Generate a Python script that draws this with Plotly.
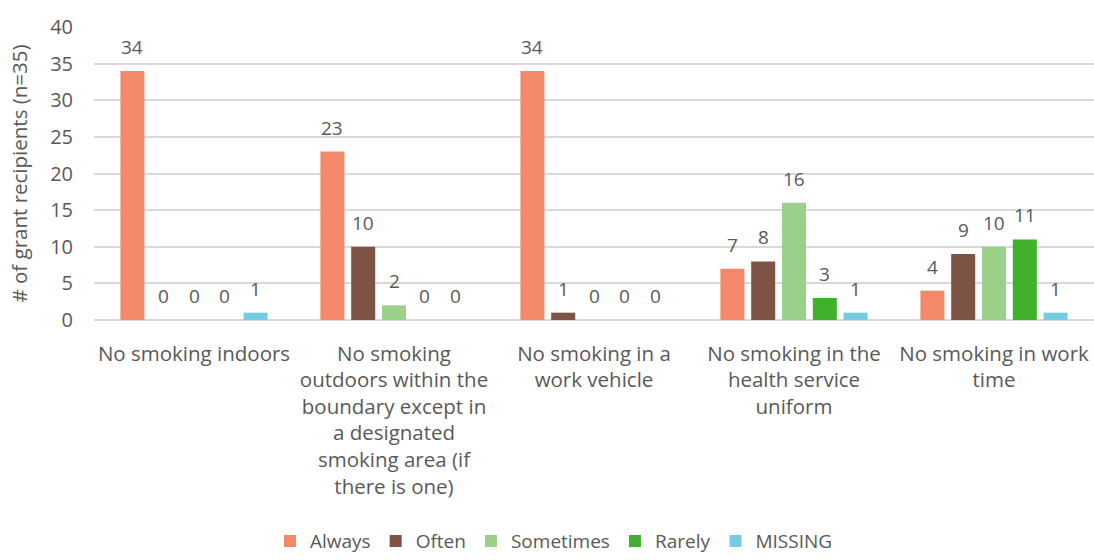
import plotly.graph_objects as go

categories = [
    "No smoking indoors",
    "No smoking<br>outdoors within the<br>boundary except in<br>a designated<br>smoking area (if<br>there is one)",
    "No smoking in a<br>work vehicle",
    "No smoking in the<br>health service<br>uniform",
    "No smoking in work<br>time",
]
series_names = ["Always", "Often", "Sometimes", "Rarely", "MISSING"]
always = [34, 23, 34, 7, 4]
often = [0, 10, 1, 8, 9]
sometimes = [0, 2, 0, 16, 10]
rarely = [0, 0, 0, 3, 11]
missing = [1, 0, 0, 1, 1]
colors = ["#F4896A", "#7E5446", "#9BD08B", "#41B02C", "#74CCE2"]

values = [always, often, sometimes, rarely, missing]
text_color = "#595959"
font_family = "'Open Sans', 'Noto Sans', sans-serif"

W, H = 1094, 560
ML, MR, MT, MB = 94, 0, 27, 240
BARGAP, BARGROUPGAP = 0.23, 0.22

fig = go.Figure()
for name, vals, col in zip(series_names, values, colors):
    fig.add_trace(go.Bar(
        x=categories, y=vals, name=name,
        marker=dict(color=col, line=dict(width=0)),
    ))

# value labels above each bar, shifted sideways to the bar's slot in its group
group_px = (W - ML - MR) / len(categories)
slot_px = group_px * (1 - BARGAP) / len(series_names)
annotations = []
for i, vals in enumerate(values):
    dx = (i - (len(series_names) - 1) / 2) * slot_px
    for cat, v in zip(categories, vals):
        annotations.append(dict(
            x=cat, y=v, xref="x", yref="y", text=str(v), showarrow=False,
            xanchor="center", yanchor="bottom", xshift=dx, yshift=9,
            font=dict(size=19, color=text_color, family=font_family),
        ))

fig.update_layout(
    width=W, height=H,
    margin=dict(l=ML, r=MR, t=MT, b=MB, autoexpand=False),
    barmode="group", bargap=BARGAP, bargroupgap=BARGROUPGAP,
    plot_bgcolor="white", paper_bgcolor="white",
    font=dict(family=font_family, color=text_color, size=20),
    showlegend=True,
    legend=dict(orientation="h", x=0.46, xanchor="center", y=-0.755, yanchor="middle",
                font=dict(size=19, color=text_color), itemwidth=30,
                traceorder="normal"),
    annotations=annotations,
)
fig.update_yaxes(
    range=[0, 40], dtick=5, showgrid=True, gridcolor="#D9D9D9", gridwidth=1.5,
    zeroline=True, zerolinecolor="#D9D9D9", zerolinewidth=1.5,
    tickfont=dict(size=20, color=text_color), ticks="", ticklen=0,
    ticklabelstandoff=20,
    title=dict(text="# of grant recipients (n=35)", font=dict(size=20.5, color=text_color), standoff=16),
)
fig.update_xaxes(
    tickfont=dict(size=20.5, color=text_color), ticks="", showline=False, tickangle=0,
    ticklabelstandoff=19,
)

fig.write_html("out.html")
